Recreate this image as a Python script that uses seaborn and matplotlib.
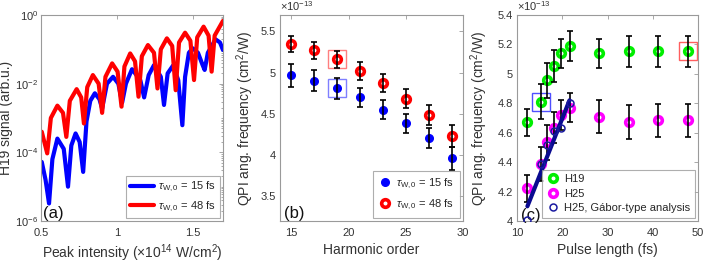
import numpy as np
import pandas as pd
import matplotlib
matplotlib.use("Agg")
import matplotlib.pyplot as plt
import seaborn as sns
from matplotlib.ticker import FixedLocator, FuncFormatter, NullFormatter, LogFormatterSciNotation

# ---------------- Panel (a): H19 signal vs peak intensity (log10 of signal) ----------------
a_x_15 = [0.505, 0.53, 0.553, 0.575, 0.608, 0.65, 0.678, 0.70, 0.728, 0.755, 0.778, 0.80, 0.825,
          0.855, 0.885, 0.903, 0.935, 0.975, 1.01, 1.035, 1.06, 1.10, 1.155, 1.18, 1.21, 1.245,
          1.29, 1.311, 1.335, 1.371, 1.405, 1.432, 1.45, 1.475, 1.50, 1.535, 1.565, 1.579, 1.60,
          1.651, 1.68, 1.70]
a_log_15 = [-4.28, -4.8, -5.49, -4.2, -3.60, -3.9, -5.0, -3.8, -3.45, -3.7, -4.57, -3.1, -2.5,
            -2.28, -2.45, -2.72, -2.0, -1.80, -2.0, -2.55, -2.0, -1.58, -1.9, -2.40, -1.75, -1.46,
            -1.8, -2.62, -1.7, -1.47, -1.9, -3.21, -1.8, -1.1, -0.97, -1.1, -1.45, -1.60, -1.1,
            -0.71, -0.8, -1.02]
a_x_48 = [0.505, 0.541, 0.565, 0.608, 0.645, 0.667, 0.69, 0.735, 0.765, 0.783, 0.805, 0.842,
          0.88, 0.903, 0.925, 0.969, 1.005, 1.031, 1.05, 1.088, 1.12, 1.143, 1.165, 1.205, 1.245,
          1.268, 1.29, 1.33, 1.365, 1.388, 1.41, 1.45, 1.485, 1.509, 1.53, 1.572, 1.605, 1.625,
          1.645, 1.70]
a_log_48 = [-3.40, -4.03, -3.0, -2.64, -2.85, -3.55, -2.5, -2.16, -2.4, -3.16, -2.1, -1.75,
            -2.0, -2.85, -1.8, -1.41, -1.65, -2.67, -1.5, -1.12, -1.35, -2.38, -1.2, -0.875, -1.1,
            -2.14, -1.0, -0.68, -0.9, -2.19, -0.8, -0.515, -0.75, -1.895, -0.65, -0.34, -0.6, -1.65,
            -0.6, -0.17]

# ---------------- Panel (b): QPI frequency vs harmonic order (x 1e-13 cm^2/W) ----------------
b_order = [15, 17, 19, 21, 23, 25, 27, 29]
b_qpi_15 = [4.97, 4.90, 4.81, 4.70, 4.55, 4.385, 4.21, 3.96]
b_err_15 = [0.138, 0.128, 0.124, 0.116, 0.118, 0.118, 0.124, 0.142]
b_qpi_48 = [5.345, 5.27, 5.16, 5.02, 4.875, 4.685, 4.487, 4.235]
b_err_48 = [0.10, 0.106, 0.108, 0.11, 0.11, 0.118, 0.118, 0.136]
b_box_x = [19, 19]
b_box_y = [4.81, 5.16]

# ---------------- Panel (c): QPI frequency vs pulse length ----------------
c_pulse = [12.2, 15.2, 16.7, 18.1, 19.7, 21.7, 28.2, 34.7, 41.2, 47.8]
c_h19 = [4.67, 4.81, 4.955, 5.055, 5.14, 5.19, 5.14, 5.155, 5.155, 5.155]
c_h19_err = [0.09, 0.12, 0.12, 0.11, 0.10, 0.10, 0.10, 0.105, 0.105, 0.105]
c_h25 = [4.222, 4.39, 4.535, 4.635, 4.72, 4.77, 4.71, 4.672, 4.685, 4.685]
c_h25_err = [0.09, 0.115, 0.12, 0.105, 0.10, 0.10, 0.11, 0.115, 0.113, 0.113]
c_gabor_x = [12.2, 15.2, 16.7, 18.1, 19.7, 21.7]
c_gabor_y = [4.01, 4.39, 4.515, 4.615, 4.63, 4.80]
c_fit_x = [12.3, 21.6]
c_fit_y = [4.10, 4.82]
c_box_x = [15.2, 47.8]
c_box_y = [4.81, 5.155]

# ---------------- style ----------------
sns.set_theme(style="white")
plt.rcParams["font.family"] = ["Liberation Sans", "DejaVu Sans"]
plt.rcParams["mathtext.fontset"] = "custom"
plt.rcParams["mathtext.rm"] = "Liberation Sans"
plt.rcParams["mathtext.it"] = "Liberation Sans:italic"
plt.rcParams["mathtext.bf"] = "Liberation Sans:bold"
TXT = "#333333"
SPINE = "#9a9a9a"

fig = plt.figure(figsize=(7.06, 2.63), dpi=100)
W, H = 706, 263
def add_axes(l, r, t, b):
    return fig.add_axes([l / W, (H - b) / H, (r - l) / W, (b - t) / H])

axa = add_axes(41, 223, 15, 221)
axb = add_axes(280, 463, 15, 221)
axc = add_axes(517, 698, 15, 221)

def style(ax):
    for s in ax.spines.values():
        s.set_color(SPINE)
        s.set_linewidth(0.8)
    ax.tick_params(which="both", direction="in", top=True, right=True, color=SPINE,
                   labelcolor=TXT, labelsize=8, length=3, width=0.6)
    ax.tick_params(axis="x", pad=5)
    ax.tick_params(axis="y", pad=3)
    ax.tick_params(which="minor", length=1.8)

XLAB_Y = -0.105

# ---------------- (a) ----------------
dfa15 = pd.DataFrame({"x": a_x_15, "y": 10 ** np.array(a_log_15)})
dfa48 = pd.DataFrame({"x": a_x_48, "y": 10 ** np.array(a_log_48)})
axa.set_yscale("log")
sns.lineplot(data=dfa15, x="x", y="y", ax=axa, color="#0000FF", lw=3.0, sort=False,
             label=r"$\tau_{\mathrm{W,0}}$ = 15 fs", errorbar=None)
sns.lineplot(data=dfa48, x="x", y="y", ax=axa, color="#FF0000", lw=3.0, sort=False,
             label=r"$\tau_{\mathrm{W,0}}$ = 48 fs", errorbar=None)
axa.set_xlim(0.5, 1.7)
axa.set_ylim(1e-6, 1)
axa.xaxis.set_major_locator(FixedLocator([0.5, 1.0, 1.5]))
axa.xaxis.set_major_formatter(FuncFormatter(lambda v, p: f"{v:g}"))
axa.yaxis.set_major_locator(FixedLocator([1e-6, 1e-4, 1e-2, 1]))
axa.yaxis.set_major_formatter(LogFormatterSciNotation())
minor = [m * 10.0 ** k for k in range(-6, 0) for m in range(1, 10)]
axa.yaxis.set_minor_locator(FixedLocator(minor))
axa.yaxis.set_minor_formatter(NullFormatter())
style(axa)
axa.tick_params(axis="y", pad=2)
axa.set_xlabel(r"Peak intensity ($\times$10$^{14}$ W/cm$^2$)", fontsize=10, color=TXT)
axa.set_ylabel("H19 signal (arb.u.)", fontsize=10, color=TXT)
axa.yaxis.set_label_coords(-0.152, 0.5)
axa.xaxis.set_label_coords(0.5, XLAB_Y)
lg = axa.legend(loc="lower right", fontsize=8, handlelength=2.2, frameon=True, fancybox=False,
                borderpad=0.35, labelspacing=0.45, handletextpad=0.3, borderaxespad=0.3)
lg.get_frame().set_edgecolor(SPINE)
lg.get_frame().set_linewidth(0.8)
axa.text(0.01, 0.0, "(a)", transform=axa.transAxes, fontsize=12, color="#111111", va="bottom", ha="left")

# ---------------- (b) ----------------
dfb = pd.DataFrame({"order": b_order, "q15": b_qpi_15, "q48": b_qpi_48})
axb.plot(b_box_x[:1], b_box_y[:1], marker="s", ms=12.5, mfc="none", mec="#7f7fff", mew=1.0, ls="none", zorder=1)
axb.plot(b_box_x[1:], b_box_y[1:], marker="s", ms=12.5, mfc="none", mec="#ff7f7f", mew=1.0, ls="none", zorder=1)
sns.lineplot(data=dfb, x="order", y="q15", ax=axb, ls="", marker="o", ms=5.5, mfc="#0000FF",
             mec="#0000FF", mew=1, color="#0000FF", label=r"$\tau_{\mathrm{W,0}}$ = 15 fs",
             errorbar=None, zorder=2)
sns.lineplot(data=dfb, x="order", y="q48", ax=axb, ls="", marker="o", ms=5.5, mfc="none",
             mec="#FF0000", mew=2.6, color="#FF0000", label=r"$\tau_{\mathrm{W,0}}$ = 48 fs",
             errorbar=None, zorder=2)
axb.errorbar(b_order, b_qpi_15, yerr=b_err_15, fmt="none", ecolor="black", elinewidth=1.2,
             capsize=2, capthick=1.2, zorder=3)
axb.errorbar(b_order, b_qpi_48, yerr=b_err_48, fmt="none", ecolor="black", elinewidth=1.2,
             capsize=2, capthick=1.2, zorder=3)
axb.set_xlim(14, 30)
axb.set_ylim(3.2, 5.7)
axb.xaxis.set_major_locator(FixedLocator([15, 20, 25, 30]))
axb.yaxis.set_major_locator(FixedLocator([3.5, 4, 4.5, 5, 5.5]))
axb.yaxis.set_major_formatter(FuncFormatter(lambda v, p: f"{v:g}"))
style(axb)
axb.set_xlabel("Harmonic order", fontsize=10, color=TXT)
axb.set_ylabel(r"QPI ang. frequency (cm$^2$/W)", fontsize=10, color=TXT)
axb.yaxis.set_label_coords(-0.131, 0.5)
axb.xaxis.set_label_coords(0.5, XLAB_Y)
axb.text(0.0, 1.01, r"$\times$10$^{-13}$", transform=axb.transAxes, fontsize=8, color=TXT, va="bottom", ha="left")
lg = axb.legend(loc="lower right", fontsize=8, handlelength=1.2, frameon=True, fancybox=False,
                borderpad=0.5, labelspacing=0.6, handletextpad=0.4, borderaxespad=0.3)
lg.get_frame().set_edgecolor(SPINE)
lg.get_frame().set_linewidth(0.8)
axb.text(0.02, 0.0, "(b)", transform=axb.transAxes, fontsize=12, color="#111111", va="bottom", ha="left")

# ---------------- (c) ----------------
dfc = pd.DataFrame({"pulse": c_pulse, "h19": c_h19, "h25": c_h25})
dfg = pd.DataFrame({"x": c_gabor_x, "y": c_gabor_y})
dff = pd.DataFrame({"x": c_fit_x, "y": c_fit_y})
axc.plot(c_box_x[:1], c_box_y[:1], marker="s", ms=12.5, mfc="none", mec="#4f4fff", mew=1.0, ls="none", zorder=1)
axc.plot(c_box_x[1:], c_box_y[1:], marker="s", ms=12.5, mfc="none", mec="#ff5f5f", mew=1.0, ls="none", zorder=1)
sns.lineplot(data=dfc, x="pulse", y="h19", ax=axc, ls="", marker="o", ms=5.5, mfc="none",
             mec="#00EE00", mew=2.6, color="#00EE00", label="H19", errorbar=None, zorder=2)
sns.lineplot(data=dfc, x="pulse", y="h25", ax=axc, ls="", marker="o", ms=5.5, mfc="none",
             mec="#FF00FF", mew=2.6, color="#FF00FF", label="H25", errorbar=None, zorder=2)
axc.errorbar(c_pulse, c_h19, yerr=c_h19_err, fmt="none", ecolor="black", elinewidth=1.2,
             capsize=2, capthick=1.2, zorder=3)
axc.errorbar(c_pulse, c_h25, yerr=c_h25_err, fmt="none", ecolor="black", elinewidth=1.2,
             capsize=2, capthick=1.2, zorder=3)
sns.lineplot(data=dff, x="x", y="y", ax=axc, color="#0a0a90", lw=3.0, errorbar=None, zorder=4)
sns.lineplot(data=dfg, x="x", y="y", ax=axc, ls="", marker="o", ms=5, mfc="none", mec="#1a1aa0",
             mew=1.1, color="#1a1aa0", label=u"H25, G\u00e1bor-type analysis", errorbar=None, zorder=5)
axc.set_xlim(10, 50)
axc.set_ylim(4.0, 5.4)
axc.xaxis.set_major_locator(FixedLocator([10, 20, 30, 40, 50]))
axc.yaxis.set_major_locator(FixedLocator([4.0, 4.2, 4.4, 4.6, 4.8, 5.0, 5.2, 5.4]))
axc.yaxis.set_major_formatter(FuncFormatter(lambda v, p: f"{v:g}"))
style(axc)
axc.set_xlabel("Pulse length (fs)", fontsize=10, color=TXT)
axc.set_ylabel(r"QPI ang. frequency (cm$^2$/W)", fontsize=10, color=TXT)
axc.yaxis.set_label_coords(-0.149, 0.5)
axc.xaxis.set_label_coords(0.5, XLAB_Y)
axc.text(0.0, 1.01, r"$\times$10$^{-13}$", transform=axc.transAxes, fontsize=8, color=TXT, va="bottom", ha="left")
lg = axc.legend(loc="lower right", fontsize=8, handlelength=1.2, frameon=True, fancybox=False,
                borderpad=0.4, labelspacing=0.4, handletextpad=0.4, borderaxespad=0.3)
lg.get_frame().set_edgecolor(SPINE)
lg.get_frame().set_linewidth(0.8)
axc.text(0.02, -0.01, "(c)", transform=axc.transAxes, fontsize=12, color="#111111", va="bottom", ha="left")

fig.savefig("out.png", dpi=100)
